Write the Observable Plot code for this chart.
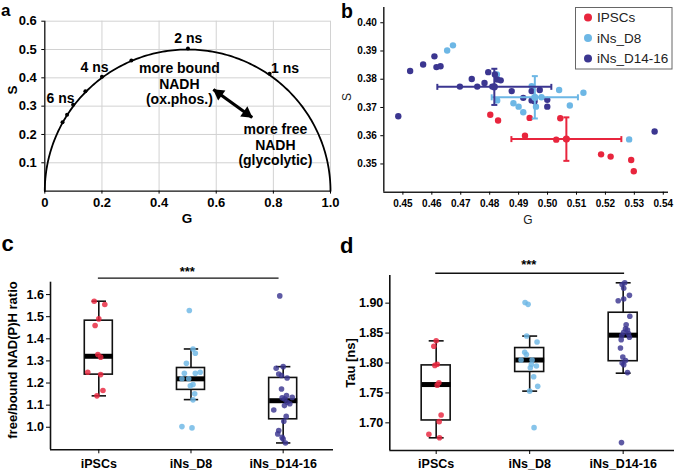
<!DOCTYPE html>
<html>
<head>
<meta charset="utf-8">
<script src="https://cdn.jsdelivr.net/npm/d3@7"></script>
<script src="https://cdn.jsdelivr.net/npm/@observablehq/plot@0.6"></script>
<style>
  body { margin: 0; background: #fff; }
  #fig { position: relative; width: 677px; height: 475px; overflow: hidden; background: #fff; }
  #fig svg { position: absolute; overflow: visible; }
</style>
</head>
<body>
<div id="fig"></div>
<script>
// ---------- shared ----------
const groups = ["iPSCs", "iNs_D8", "iNs_D14-16"];
const legendNames = ["IPSCs", "iNs_D8", "iNs_D14-16"];
const colors = ["#e8253d", "#6db7e5", "#3b3690"];

// ---------- panel a: phasor plot, universal semicircle ----------
const gTicksA = [0, 0.2, 0.4, 0.6, 0.8, 1.0];
const sTicksA = [0.1, 0.2, 0.3, 0.4, 0.5, 0.6];
// lifetime markers (1 ns ... 8 ns) on the semicircle
const tauG = [0.787, 0.501, 0.303, 0.200, 0.142, 0.099, 0.078, 0.062];
const tauS = [0.414, 0.504, 0.461, 0.404, 0.353, 0.305, 0.270, 0.243];
const tauLabelText = ["1 ns", "2 ns", "4 ns", "6 ns"];

// ---------- panel b: phasor coordinates per sample ----------
const gTicksB = [0.45, 0.46, 0.47, 0.48, 0.49, 0.50, 0.51, 0.52, 0.53, 0.54];
const sTicksB = [0.35, 0.36, 0.37, 0.38, 0.39, 0.40];
const ipscG = [0.4802, 0.4829, 0.4922, 0.4938, 0.5044, 0.5030, 0.5185, 0.5218, 0.5289, 0.5298];
const ipscS = [0.3674, 0.3654, 0.3600, 0.3663, 0.3662, 0.3586, 0.3534, 0.3526, 0.3514, 0.3474];
const d8G = [0.4653, 0.4673, 0.4825, 0.4826, 0.4882, 0.4900, 0.4916, 0.4945, 0.4956, 0.4979, 0.4960, 0.5040, 0.5077, 0.5124, 0.5282];
const d8S = [0.3902, 0.3920, 0.3817, 0.3725, 0.3715, 0.3703, 0.3683, 0.3775, 0.3734, 0.3736, 0.3703, 0.3762, 0.3707, 0.3752, 0.3587];
const d14G = [0.4484, 0.4525, 0.4570, 0.4609, 0.4616, 0.4630, 0.4697, 0.4738, 0.4757, 0.4782, 0.4795, 0.4809, 0.4818, 0.4826, 0.4838, 0.4876, 0.4916, 0.4945, 0.4945, 0.4955, 0.4973, 0.4999, 0.4999, 0.5370];
const d14S = [0.3669, 0.3829, 0.3852, 0.3881, 0.3843, 0.3846, 0.3774, 0.3801, 0.3774, 0.3787, 0.3825, 0.3774, 0.3817, 0.3799, 0.3796, 0.3758, 0.3734, 0.3758, 0.3725, 0.3722, 0.3762, 0.3727, 0.3703, 0.3615];
const meanG = [0.5065, 0.4956, 0.4816];
const meanS = [0.3588, 0.3736, 0.3773];
const sdG = [0.0190, 0.0149, 0.0197];
const sdS = [0.0077, 0.0075, 0.0064];

// ---------- panel c: free/bound NAD(P)H ratio ----------
const ratioTicks = [1.0, 1.1, 1.2, 1.3, 1.4, 1.5, 1.6];
const ratioIPSC = [1.570, 1.555, 1.490, 1.460, 1.329, 1.317, 1.249, 1.238, 1.166, 1.142];
const ratioIPSCJit = [-0.05, 0.065, 0, -0.04, -0.01, 0.02, -0.12, 0.02, 0.045, -0.02];
const ratioD8 = [1.528, 1.354, 1.335, 1.289, 1.244, 1.244, 1.249, 1.219, 1.219, 1.193, 1.188, 1.151, 1.124, 1.003, 0.997];
const ratioD8Jit = [-0.018, 0.022, 0.047, -0.05, -0.072, 0.047, 0.1, -0.025, -0.098, 0.022, -0.007, 0.04, 0.022, -0.098, 0.011];
const ratioD14 = [1.594, 1.274, 1.267, 1.241, 1.234, 1.223, 1.173, 1.143, 1.135, 1.133, 1.128, 1.113, 1.106, 1.098, 1.078, 1.049, 1.027, 0.985, 0.970, 0.954, 0.947, 0.929];
const ratioD14Jit = [-0.037, 0, -0.076, -0.048, -0.018, 0.043, -0.018, 0.036, 0.098, -0.011, 0.017, 0.043, 0.072, 0.014, -0.102, 0.033, 0.007, -0.048, -0.059, -0.011, 0, 0.025];
const ratioLo  = [1.142, 1.125, 0.929];
const ratioQ1  = [1.238, 1.169, 1.036];
const ratioMed = [1.321, 1.219, 1.120];
const ratioQ3  = [1.482, 1.268, 1.223];
const ratioHi  = [1.570, 1.354, 1.274];

// ---------- panel d: mean lifetime ----------
const tauTicks = [1.70, 1.75, 1.80, 1.85, 1.90];
const tauIPSC = [1.837, 1.828, 1.796, 1.798, 1.767, 1.763, 1.713, 1.702, 1.681, 1.675];
const tauIPSCJit = [0, -0.025, -0.014, 0.011, 0.029, 0.011, 0.053, 0.032, -0.078, 0.036];
const tauD8 = [1.901, 1.898, 1.845, 1.835, 1.818, 1.814, 1.805, 1.805, 1.7975, 1.792, 1.795, 1.777, 1.761, 1.753, 1.692];
const tauD8Jit = [-0.049, -0.017, -0.032, 0.079, -0.053, -0.035, -0.092, 0.026, 0.018, 0.007, 0.072, 0.043, 0.086, 0, 0.047];
const tauD14 = [1.934, 1.931, 1.925, 1.913, 1.907, 1.904, 1.878, 1.864, 1.857, 1.855, 1.8515, 1.849, 1.846, 1.843, 1.839, 1.825, 1.810, 1.804, 1.800, 1.797, 1.784, 1.667];
const tauD14Jit = [0.017, -0.011, 0.006, 0.067, 0.006, -0.053, 0.071, 0.032, 0.025, 0.046, 0.006, 0.057, -0.015, 0.067, -0.021, -0.029, -0.004, 0.025, -0.011, 0.006, 0.046, -0.018];
const tauLo  = [1.675, 1.753, 1.783];
const tauQ1  = [1.704, 1.785, 1.803];
const tauMed = [1.764, 1.805, 1.8465];
const tauQ3  = [1.796, 1.825, 1.884];
const tauHi  = [1.837, 1.845, 1.934];

const sigLabel = "***";

// ---------- drawing ----------
const fig = document.getElementById("fig");
const font = '"Liberation Sans", Arial, Helvetica, sans-serif';
function place(svg, left, top) {
  svg.style.left = left + "px";
  svg.style.top = top + "px";
  svg.style.background = "transparent";
  fig.appendChild(svg);
}

// horizontal / vertical line symbols used as error-bar caps
const capH = {draw(ctx, size) { const w = Math.sqrt(size / Math.PI); ctx.moveTo(-w, 0); ctx.lineTo(w, 0); }};
const capV = {draw(ctx, size) { const w = Math.sqrt(size / Math.PI); ctx.moveTo(0, -w); ctx.lineTo(0, w); }};

// Panel a
const arc = d3.range(0, 181).map(a => {
  const t = a * Math.PI / 180;
  return {g: 0.5 + 0.5 * Math.cos(t), s: 0.5 * Math.sin(t)};
});
const tauPts = tauG.map((g, i) => ({g, s: tauS[i]}));
const tauLabelPos = [[0.841, 0.433], [0.502, 0.539], [0.174, 0.436], [0.055, 0.327]];
const tauLabels = tauLabelText.map((t, i) => ({t, g: tauLabelPos[i][0], s: tauLabelPos[i][1]}));
const arrowEnds = [{g1: 0.590, s1: 0.359, g2: 0.726, s2: 0.260}];

const plotA = Plot.plot({
  width: 340, height: 230,
  marginLeft: 44.3, marginRight: 10, marginTop: 20.7, marginBottom: 39.4,
  x: {domain: [0, 1]},
  y: {domain: [0, 0.6]},
  style: {fontFamily: font, fontSize: "13px", fontWeight: "bold", color: "#000"},
  marks: [
    Plot.ruleX(gTicksA.slice(1), {stroke: "#d2d2d2", strokeWidth: 1}),
    Plot.ruleY(sTicksA, {stroke: "#d2d2d2", strokeWidth: 1}),
    Plot.ruleX([0], {stroke: "#111", strokeWidth: 1.3}),
    Plot.ruleY([0], {stroke: "#111", strokeWidth: 1.3}),
    Plot.axisX(gTicksA, {tickSize: 3, tickPadding: 4, tickFormat: d => d === 0 ? "0" : d.toFixed(1), label: null, fontSize: 13, fontWeight: "bold"}),
    Plot.axisY(sTicksA, {tickSize: 3, tickPadding: 5, tickFormat: d => d.toFixed(1), label: null, fontSize: 13, fontWeight: "bold"}),
    Plot.line(arc, {x: "g", y: "s", stroke: "#000", strokeWidth: 1.8}),
    Plot.dot(tauPts, {x: "g", y: "s", r: 2, fill: "#000"}),
    Plot.text(tauLabels, {x: "g", y: "s", text: "t", fontSize: 14, fontWeight: "bold"}),
    Plot.text(["more bound\nNADH\n(ox.phos.)"], {x: 0.471, y: 0.38, text: d => d, fontSize: 14, fontWeight: "bold", lineHeight: 1.12}),
    Plot.text(["more free\nNADH\n(glycolytic)"], {x: 0.807, y: 0.1645, text: d => d, fontSize: 14, fontWeight: "bold", lineHeight: 1.12}),
    Plot.link(arrowEnds, {x1: "g1", y1: "s1", x2: "g2", y2: "s2", stroke: "#000", strokeWidth: 3.2}),
    Plot.dot(arrowEnds, {x: "g2", y: "s2", dx: -5.5, dy: -4, symbol: "triangle", r: 4.6, fill: "#000", rotate: 125.7}),
    Plot.dot(arrowEnds, {x: "g1", y: "s1", dx: 5.5, dy: 4, symbol: "triangle", r: 4.6, fill: "#000", rotate: -54.3})
  ]
});
place(plotA, 0, 0);

// Panel b
const bSets = [[ipscG, ipscS], [d8G, d8S], [d14G, d14S]];
const bMeans = groups.map((g, i) => ({i, g: meanG[i], s: meanS[i], sg: sdG[i], ss: sdS[i]}));
const bMarks = [
  Plot.ruleX([0.4434], {stroke: "#222", strokeWidth: 1.5}),
  Plot.ruleY([0.340], {stroke: "#222", strokeWidth: 1.5}),
  Plot.axisX(gTicksB, {tickSize: 3, tickPadding: 5, tickFormat: d => d.toFixed(2), label: null, fontSize: 10, fontWeight: "bold"}),
  Plot.axisY(sTicksB, {tickSize: 3, tickPadding: 4, tickFormat: d => d.toFixed(2), label: null, fontSize: 10, fontWeight: "bold"})
];
bSets.forEach(([G, S], i) => {
  bMarks.push(Plot.dot(G.map((g, k) => ({g, s: S[k]})), {x: "g", y: "s", r: 3.2, fill: colors[i]}));
});
bMeans.forEach(m => {
  const c = colors[m.i];
  bMarks.push(
    Plot.link([m], {x1: d => d.g - d.sg, x2: d => d.g + d.sg, y1: "s", y2: "s", stroke: c, strokeWidth: 2}),
    Plot.link([m], {x1: "g", x2: "g", y1: d => d.s - d.ss, y2: d => d.s + d.ss, stroke: c, strokeWidth: 2}),
    Plot.dot([m, m], {x: (d, k) => k ? d.g + d.sg : d.g - d.sg, y: "s", symbol: capV, r: 3, stroke: c, strokeWidth: 2}),
    Plot.dot([m, m], {x: "g", y: (d, k) => k ? d.s + d.ss : d.s - d.ss, symbol: capH, r: 3, stroke: c, strokeWidth: 2}),
    Plot.dot([m], {x: "g", y: "s", r: 3.6, fill: c})
  );
});
const plotB = Plot.plot({
  width: 337, height: 230,
  marginLeft: 43.3, marginRight: 9, marginTop: 7, marginBottom: 38.3,
  x: {domain: [0.4434, 0.5418]},
  y: {domain: [0.340, 0.4054]},
  style: {fontFamily: font, fontSize: "10px", fontWeight: "bold", color: "#000"},
  marks: bMarks
});
place(plotB, 340, 0);

// Panels c and d: box plots with jittered samples
function boxPanel(o) {
  const stats = groups.map((g, i) => ({i: i + 1, lo: o.lo[i], q1: o.q1[i], med: o.med[i], q3: o.q3[i], hi: o.hi[i]}));
  const marks = [
    Plot.ruleX([o.xDomain[0]], {stroke: "#111", strokeWidth: 1.6}),
    Plot.ruleY([o.yDomain[0]], {stroke: "#111", strokeWidth: 1.6}),
    Plot.axisX([1, 2, 3], {tickSize: 4, tickPadding: 5, tickFormat: d => groups[d - 1], label: null, fontSize: 12.5, fontWeight: "bold"}),
    Plot.axisY(o.yTicks, {tickSize: 4, tickPadding: 2.5, tickFormat: o.yFormat, label: null, fontSize: 12.5, fontWeight: "bold"}),
    Plot.link(stats, {x1: "i", x2: "i", y1: "lo", y2: "q1", stroke: "#111", strokeWidth: 1.6}),
    Plot.link(stats, {x1: "i", x2: "i", y1: "q3", y2: "hi", stroke: "#111", strokeWidth: 1.6}),
    Plot.link(stats, {x1: d => d.i - o.cap, x2: d => d.i + o.cap, y1: "lo", y2: "lo", stroke: "#111", strokeWidth: 1.6}),
    Plot.link(stats, {x1: d => d.i - o.cap, x2: d => d.i + o.cap, y1: "hi", y2: "hi", stroke: "#111", strokeWidth: 1.6}),
    Plot.rect(stats, {x1: d => d.i - o.half, x2: d => d.i + o.half, y1: "q1", y2: "q3", fill: "#fff", stroke: "#111", strokeWidth: 1.6}),
    Plot.link(stats, {x1: d => d.i - o.half, x2: d => d.i + o.half, y1: "med", y2: "med", stroke: "#000", strokeWidth: 5})
  ];
  o.sets.forEach(([vals, jit], i) => {
    marks.push(Plot.dot(vals.map((v, k) => ({x: i + 1 + jit[k], v})), {x: "x", y: "v", r: 2.8, fill: colors[i], fillOpacity: 0.82}));
  });
  marks.push(
    Plot.link([o.sig], {x1: "x1", x2: "x2", y1: "y", y2: "y", stroke: "#111", strokeWidth: 1.3}),
    Plot.text([o.sig], {x: "tx", y: "ty", text: () => sigLabel, fontSize: 13, fontWeight: "bold"})
  );
  return Plot.plot({
    width: o.width, height: 245,
    marginLeft: o.ml, marginRight: o.mr, marginTop: o.mt, marginBottom: o.mb,
    x: {domain: o.xDomain},
    y: {domain: o.yDomain},
    style: {fontFamily: font, fontSize: "12.5px", fontWeight: "bold", color: "#000"},
    marks
  });
}

const plotC = boxPanel({
  width: 340, ml: 50, mr: 7, mt: 51.7, mb: 25.7,
  xDomain: [0.476, 3.546], yDomain: [0.898, 1.656],
  yTicks: ratioTicks, yFormat: d => d.toFixed(1),
  lo: ratioLo, q1: ratioQ1, med: ratioMed, q3: ratioQ3, hi: ratioHi,
  half: 0.152, cap: 0.078,
  sets: [[ratioIPSC, ratioIPSCJit], [ratioD8, ratioD8Jit], [ratioD14, ratioD14Jit]],
  sig: {x1: 0.99, x2: 2.95, y: 1.674, tx: 1.96, ty: 1.703}
});
place(plotC, 0, 230);

const plotD = boxPanel({
  width: 337, ml: 49.3, mr: 3, mt: 45, mb: 25,
  xDomain: [0.504, 3.549], yDomain: [1.6538, 1.9462],
  yTicks: tauTicks, yFormat: d => d.toFixed(2),
  lo: tauLo, q1: tauQ1, med: tauMed, q3: tauQ3, hi: tauHi,
  half: 0.155, cap: 0.08,
  sets: [[tauIPSC, tauIPSCJit], [tauD8, tauD8Jit], [tauD14, tauD14Jit]],
  sig: {x1: 0.99, x2: 3.01, y: 1.950, tx: 1.99, ty: 1.964}
});
place(plotD, 340, 230);

// ---------- panel letters, axis titles, legend ----------
const ns = "http://www.w3.org/2000/svg";
const over = document.createElementNS(ns, "svg");
over.setAttribute("width", 677);
over.setAttribute("height", 475);
over.style.left = "0px"; over.style.top = "0px";
over.style.pointerEvents = "none";
over.style.fontFamily = font;
fig.appendChild(over);
function txt(s, x, y, opts = {}) {
  const t = document.createElementNS(ns, "text");
  t.textContent = s;
  t.setAttribute("x", x); t.setAttribute("y", y);
  t.setAttribute("font-size", opts.size || 13);
  t.setAttribute("font-weight", opts.weight || "bold");
  t.setAttribute("fill", opts.fill || "#000");
  if (opts.anchor) t.setAttribute("text-anchor", opts.anchor);
  if (opts.central) t.setAttribute("dominant-baseline", "central");
  if (opts.rotate) t.setAttribute("transform", `rotate(${opts.rotate} ${x} ${y})`);
  over.appendChild(t);
  return t;
}
txt("a", 1, 16, {size: 17});
txt("b", 341, 18, {size: 19.5});
txt("c", 1.5, 250.5, {size: 22});
txt("d", 340, 253, {size: 22});

txt("S", 12, 90, {size: 13.5, anchor: "middle", central: true, rotate: -90});
txt("G", 187, 218, {size: 13.5, anchor: "middle", central: true});
txt("S", 347, 97, {size: 12, weight: "normal", fill: "#222", anchor: "middle", central: true, rotate: -90});
txt("G", 528, 220, {size: 12, weight: "normal", fill: "#222", anchor: "middle", central: true});
txt("free/bound NAD(P)H ratio", 12, 360, {size: 13, anchor: "middle", central: true, rotate: -90});
txt("Tau [ns]", 350, 363, {size: 13, anchor: "middle", central: true, rotate: -90});

// legend of panel b
const box = document.createElementNS(ns, "rect");
box.setAttribute("x", 575.5); box.setAttribute("y", 7.5);
box.setAttribute("width", 96.5); box.setAttribute("height", 61.5);
box.setAttribute("fill", "#fff"); box.setAttribute("stroke", "#666"); box.setAttribute("stroke-width", 1);
over.appendChild(box);
legendNames.forEach((name, i) => {
  const cy = 17.5 + i * 20.5;
  const c = document.createElementNS(ns, "circle");
  c.setAttribute("cx", 588); c.setAttribute("cy", cy); c.setAttribute("r", 4);
  c.setAttribute("fill", colors[i]);
  over.appendChild(c);
  txt(name, 597, cy, {size: 13.5, weight: "normal", fill: "#222", central: true});
});
</script>
</body>
</html>
